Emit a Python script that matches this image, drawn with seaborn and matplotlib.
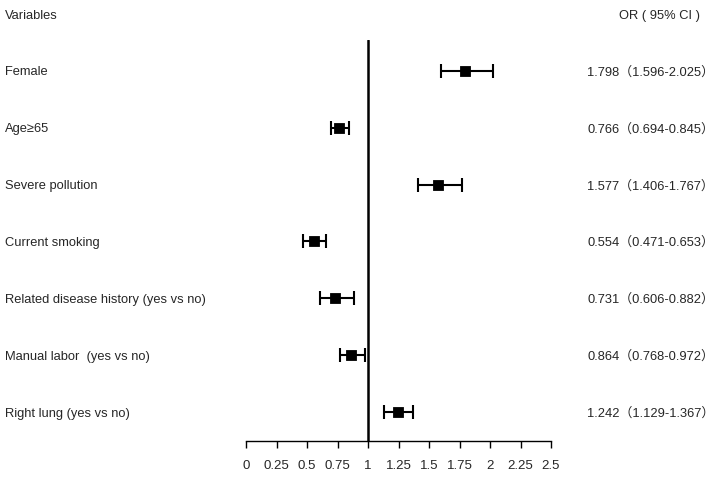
import seaborn as sns
import matplotlib.pyplot as plt
import matplotlib.transforms as mtransforms
import pandas as pd

# Data
variables = ['Female', 'Age≥65', 'Severe pollution', 'Current smoking',
             'Related disease history (yes vs no)', 'Manual labor  (yes vs no)',
             'Right lung (yes vs no)']
odds_ratio = [1.798, 0.766, 1.577, 0.554, 0.731, 0.864, 1.242]
ci_low = [1.596, 0.694, 1.406, 0.471, 0.606, 0.768, 1.129]
ci_high = [2.025, 0.845, 1.767, 0.653, 0.882, 0.972, 1.367]
x_ticks = [0, 0.25, 0.5, 0.75, 1, 1.25, 1.5, 1.75, 2, 2.25, 2.5]
x_tick_labels = ['0', '0.25', '0.5', '0.75', '1', '1.25', '1.5', '1.75', '2', '2.25', '2.5']

sns.set_style('white')
plt.rcParams['font.family'] = ['Liberation Sans', 'Noto Sans CJK SC', 'DejaVu Sans']

df = pd.DataFrame({'variable': variables, 'OR': odds_ratio,
                   'low': ci_low, 'high': ci_high})
df['row'] = range(len(df))

W, H = 716, 478
FS = 9.3
fig = plt.figure(figsize=(W / 100, H / 100), dpi=100)
ax = fig.add_axes([246 / W, (H - 441) / H, 305 / W, (441 - 40) / H])

# confidence intervals
ax.errorbar(df['OR'], df['row'],
            xerr=[df['OR'] - df['low'], df['high'] - df['OR']],
            fmt='none', ecolor='black', elinewidth=1.5, capsize=5, capthick=1.5)
sns.scatterplot(data=df, x='OR', y='row', marker='s', s=55, color='black',
                edgecolor='black', ax=ax, zorder=3, legend=False)

ax.axvline(1, color='black', lw=1.8)

ax.set_xlim(0, 2.5)
ax.set_ylim(6.51, -0.545)
ax.set_xticks(x_ticks)
ax.set_xticklabels(x_tick_labels, fontsize=9.5)
ax.set_yticks([])
ax.set_xlabel('')
ax.set_ylabel('')
for side in ['top', 'right', 'left']:
    ax.spines[side].set_visible(False)
ax.spines['bottom'].set_linewidth(1)
ax.spines['bottom'].set_color('black')
ax.tick_params(axis='x', direction='out', length=5, width=1, color='black',
               pad=9, bottom=True)

# left and right text columns
trans = mtransforms.blended_transform_factory(fig.transFigure, ax.transData)
header_y = (15 - 71) / 56.83
ax.text(5 / W, header_y, 'Variables', transform=trans, fontsize=FS,
        va='center_baseline', ha='left', clip_on=False)
ax.text(619 / W, header_y, 'OR ( 95% CI )', transform=trans, fontsize=FS,
        va='center_baseline', ha='left', clip_on=False)
for _, r in df.iterrows():
    ax.text(5 / W, r['row'], r['variable'], transform=trans, fontsize=FS,
            va='center_baseline', ha='left', clip_on=False)
    ax.text(587 / W, r['row'], f"{r['OR']:.3f}（{r['low']:.3f}-{r['high']:.3f}）",
            transform=trans, fontsize=FS, va='center_baseline', ha='left',
            clip_on=False)

fig.savefig('out.png', dpi=100)
